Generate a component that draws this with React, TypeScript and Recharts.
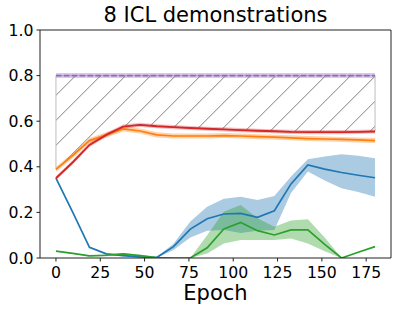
import {
  ComposedChart,
  Area,
  Line,
  XAxis,
  YAxis,
  ReferenceLine,
} from "recharts";

const epochs = [0, 9.5, 18.9, 28.4, 37.9, 47.4, 56.8, 66.3, 75.8, 85.3, 94.7, 104.2, 113.7, 123.2, 132.6, 142.1, 151.6, 161.1, 170.5, 180];

const blue = [0.35, 0.2, 0.047, 0.018, 0.01, 0.005, 0.002, 0.05, 0.127, 0.172, 0.193, 0.196, 0.178, 0.207, 0.325, 0.408, 0.39, 0.375, 0.363, 0.352];
const blueLo = [0.35, 0.2, 0.045, 0.015, 0.007, 0.003, 0, 0.035, 0.09, 0.12, 0.123, 0.11, 0.12, 0.123, 0.285, 0.379, 0.34, 0.306, 0.29, 0.269];
const blueHi = [0.35, 0.2, 0.05, 0.021, 0.013, 0.007, 0.004, 0.062, 0.16, 0.225, 0.26, 0.269, 0.254, 0.272, 0.357, 0.433, 0.445, 0.455, 0.448, 0.437];

const green = [0.03, 0.02, 0.009, 0.012, 0.018, 0.01, 0.002, 0, 0, 0.045, 0.127, 0.156, 0.12, 0.101, 0.123, 0.123, 0.06, 0, 0.025, 0.05];
const greenLo = [0.028, 0.018, 0.007, 0.008, 0.013, 0.006, 0, 0, 0, 0.02, 0.064, 0.079, 0.079, 0.079, 0.085, 0.064, 0.03, 0, 0.025, 0.05];
const greenHi = [0.032, 0.022, 0.011, 0.016, 0.022, 0.014, 0.004, 0, 0, 0.1, 0.203, 0.232, 0.174, 0.137, 0.164, 0.17, 0.09, 0, 0.025, 0.05];

const red = [0.35, 0.42, 0.496, 0.54, 0.576, 0.584, 0.578, 0.574, 0.57, 0.567, 0.564, 0.561, 0.558, 0.556, 0.553, 0.552, 0.552, 0.552, 0.553, 0.555];
const orange = [0.389, 0.45, 0.515, 0.54, 0.566, 0.557, 0.54, 0.535, 0.535, 0.535, 0.537, 0.535, 0.532, 0.53, 0.527, 0.524, 0.522, 0.52, 0.518, 0.515];

const purple = [0.8, 0.8, 0.8, 0.8, 0.8, 0.8, 0.8, 0.8, 0.8, 0.8, 0.8, 0.8, 0.8, 0.8, 0.8, 0.8, 0.8, 0.8, 0.8, 0.8];

const xTicks = [0, 25, 50, 75, 100, 125, 150, 175];
const yTicks = [0, 0.2, 0.4, 0.6, 0.8, 1.0];

const data = epochs.map((e, i) => ({
  epoch: e,
  blue: blue[i],
  blueBand: [blueLo[i], blueHi[i]],
  green: green[i],
  greenBand: [greenLo[i], greenHi[i]],
  red: red[i],
  redBand: [red[i] - 0.009, red[i] + 0.009],
  orange: orange[i],
  orangeBand: [orange[i] - 0.011, orange[i] + 0.011],
  purple: purple[i],
  purpleBand: [purple[i] - 0.011, purple[i] + 0.011],
  hatch: [Math.max(red[i], orange[i]), purple[i]],
}));

const first = data[0];
const last = data[data.length - 1];

const FONT = "DejaVu Sans, sans-serif";
const tick = { fill: "#000", fontSize: 15.7, fontFamily: FONT };

export default function App() {
  return (
    <div style={{ position: "relative", width: 399, height: 313, background: "#fff" }}>
      <style>{`body{margin:0}`}</style>
      <div
        style={{
          position: "absolute",
          left: 40,
          top: 3,
          width: 351,
          textAlign: "center",
          fontFamily: FONT,
          fontSize: 21,
          color: "#000",
        }}
      >
        8 ICL demonstrations
      </div>
      <ComposedChart
        width={399}
        height={313}
        data={data}
        margin={{ top: 30, right: 8, bottom: 0, left: 0 }}
      >
        <defs>
          <pattern
            id="hatch"
            patternUnits="userSpaceOnUse"
            width={25}
            height={25}
            patternTransform="translate(1.3,0)"
          >
            <path
              d="M-2,2 L2,-2 M0,25 L25,0 M23,27 L27,23"
              stroke="#7f7f7f"
              strokeWidth={1}
            />
          </pattern>
        </defs>
        <XAxis
          dataKey="epoch"
          type="number"
          domain={[-9, 189]}
          ticks={xTicks}
          height={55}
          tick={tick}
          tickSize={3.5}
          tickMargin={5}
          axisLine={{ stroke: "#222" }}
          tickLine={{ stroke: "#222" }}
          allowDataOverflow
          label={{
            value: "Epoch",
            position: "insideBottom",
            offset: 13,
            fill: "#000",
            fontSize: 21,
            fontFamily: FONT,
          }}
        />
        <YAxis
          type="number"
          domain={[0, 1]}
          ticks={yTicks}
          width={40}
          tick={tick}
          tickSize={3.5}
          tickMargin={3}
          tickFormatter={(v: number) => v.toFixed(1)}
          axisLine={{ stroke: "#222" }}
          tickLine={{ stroke: "#222" }}
          allowDataOverflow
        />
        <ReferenceLine y={1} stroke="#222" />
        <ReferenceLine x={189} stroke="#222" />

        <Area
          dataKey="hatch"
          fill="url(#hatch)"
          fillOpacity={1}
          stroke="#bdbdbd"
          strokeWidth={1}
          isAnimationActive={false}
          type="linear"
        />
        <ReferenceLine
          segment={[
            { x: first.epoch, y: first.hatch[0] },
            { x: first.epoch, y: first.hatch[1] },
          ]}
          stroke="#bdbdbd"
        />
        <ReferenceLine
          segment={[
            { x: last.epoch, y: last.hatch[0] },
            { x: last.epoch, y: last.hatch[1] },
          ]}
          stroke="#bdbdbd"
        />

        <Area dataKey="blueBand" fill="#1f77b4" fillOpacity={0.38} stroke="none" isAnimationActive={false} type="linear" />
        <Line dataKey="blue" stroke="#1f77b4" strokeWidth={1.7} dot={false} isAnimationActive={false} type="linear" />

        <Area dataKey="orangeBand" fill="#ff7f0e" fillOpacity={0.35} stroke="none" isAnimationActive={false} type="linear" />
        <Line dataKey="orange" stroke="#ff7f0e" strokeWidth={1.7} dot={false} isAnimationActive={false} type="linear" />

        <Area dataKey="greenBand" fill="#2ca02c" fillOpacity={0.38} stroke="none" isAnimationActive={false} type="linear" />
        <Line dataKey="green" stroke="#2ca02c" strokeWidth={1.7} dot={false} isAnimationActive={false} type="linear" />

        <Area dataKey="redBand" fill="#d62728" fillOpacity={0.3} stroke="none" isAnimationActive={false} type="linear" />
        <Line dataKey="red" stroke="#d62728" strokeWidth={1.9} dot={false} isAnimationActive={false} type="linear" />

        <Area dataKey="purpleBand" fill="#9467bd" fillOpacity={0.35} stroke="none" isAnimationActive={false} type="linear" />
        <Line dataKey="purple" stroke="#9467bd" strokeWidth={1.6} strokeDasharray="5.5 2.4" dot={false} isAnimationActive={false} type="linear" />
      </ComposedChart>
    </div>
  );
}
